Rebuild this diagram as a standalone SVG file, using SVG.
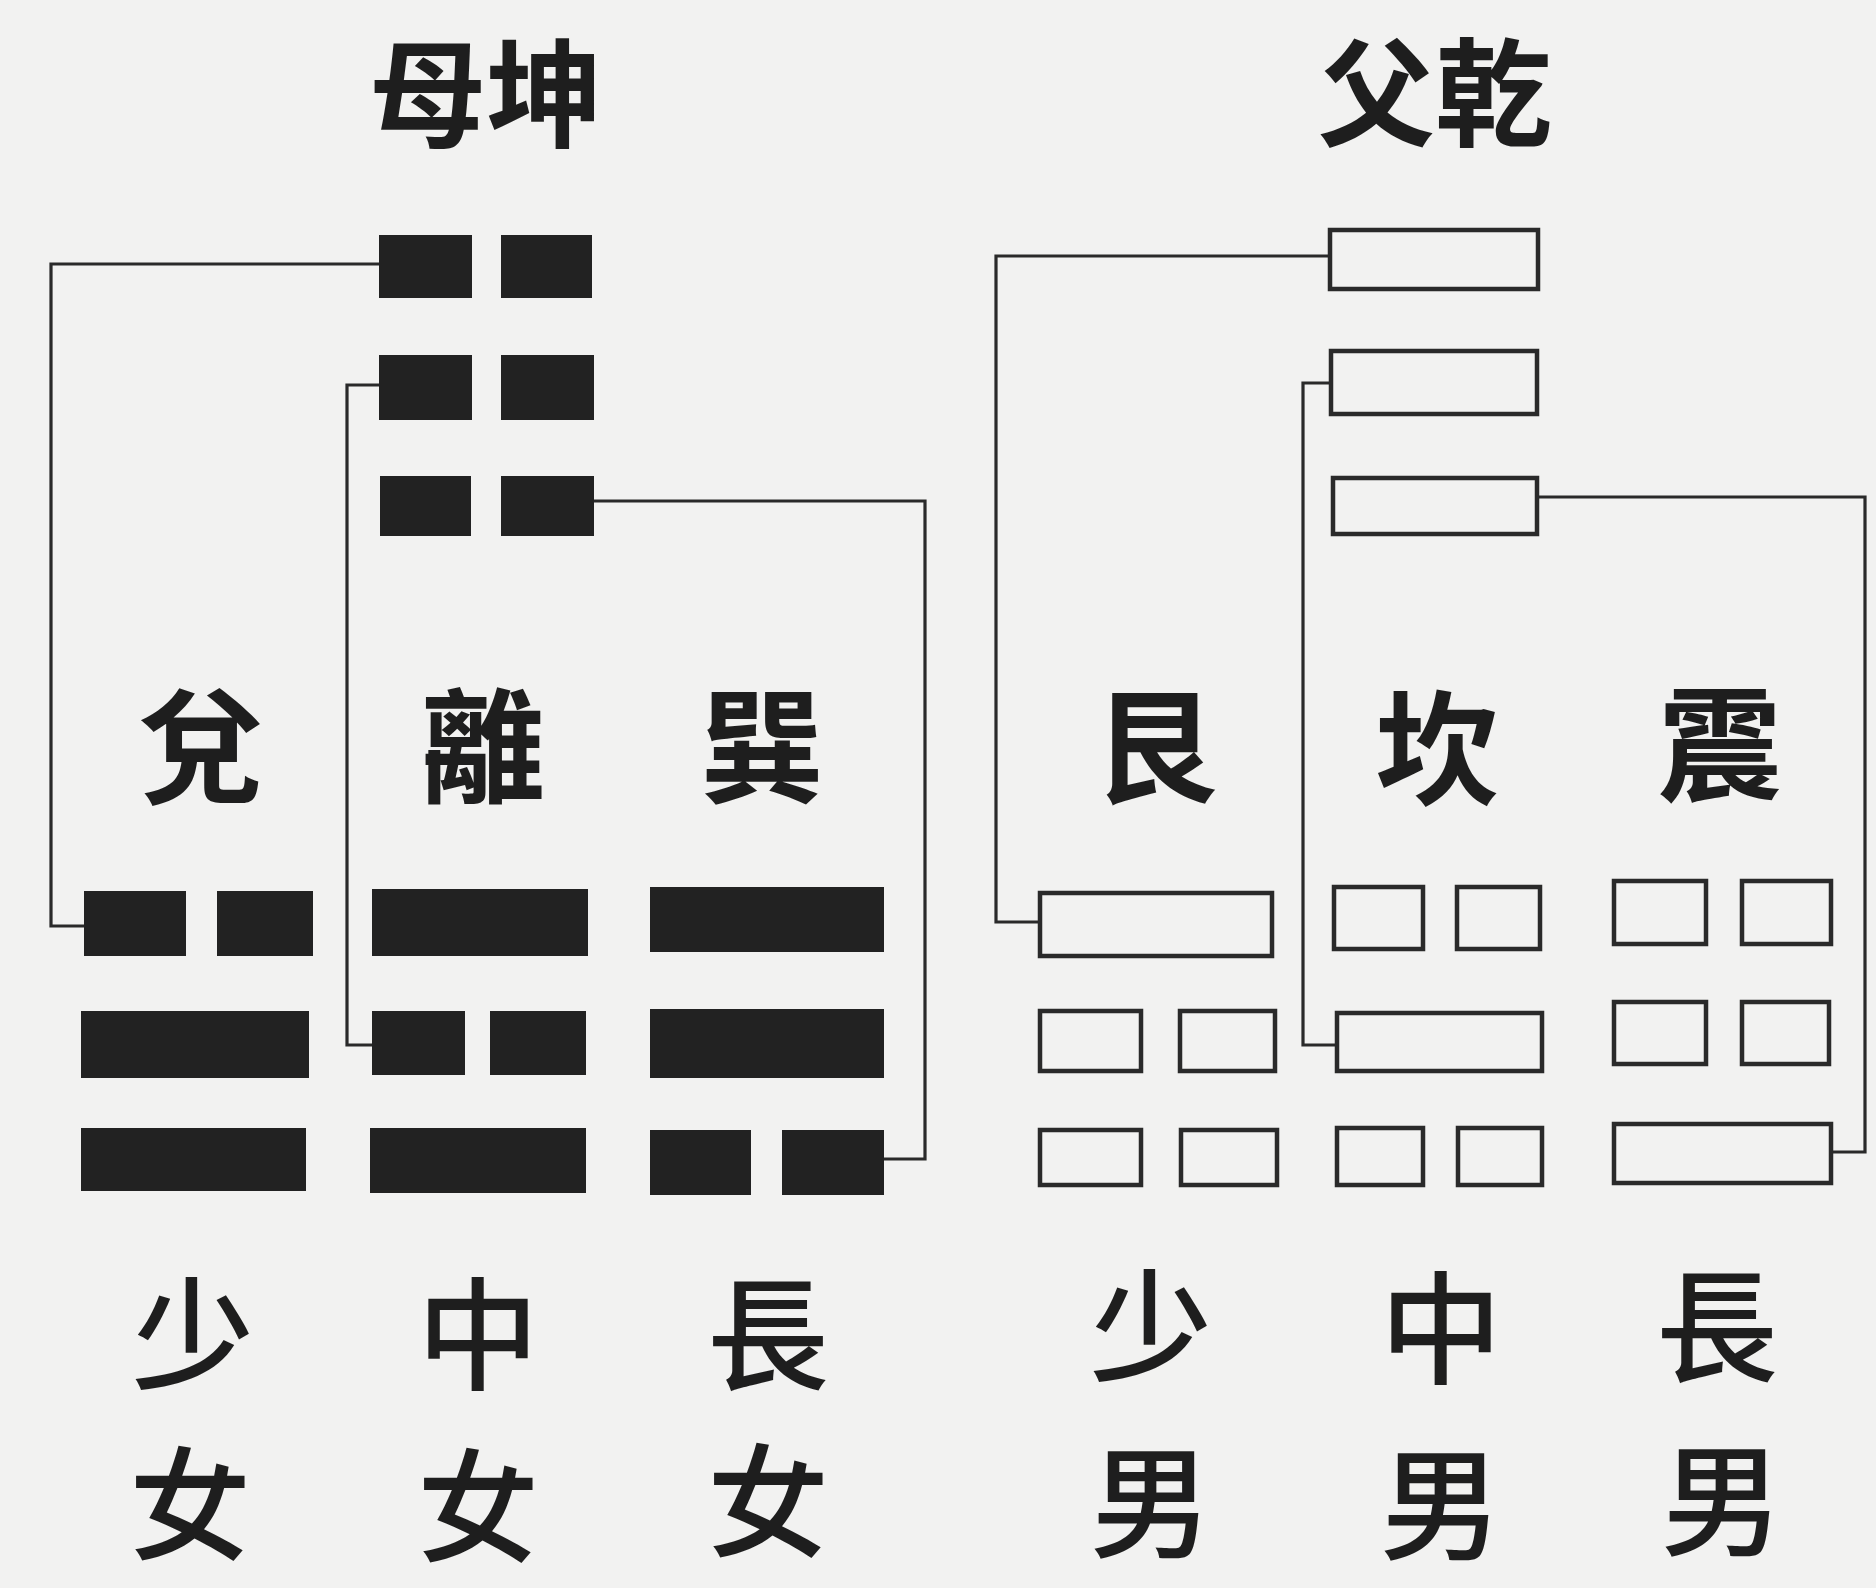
<svg xmlns="http://www.w3.org/2000/svg" width="1876" height="1588" viewBox="0 0 1876 1588">
<style>
.bg{fill:#f2f2f1}
.yinS,.yangS{fill:#222}
.o{fill:none;stroke:#2a2a2a;stroke-width:4.5}
.c{fill:none;stroke:#2a2a2a;stroke-width:3.2}
.t{font-family:"Noto Sans CJK TC","Noto Sans CJK SC",sans-serif;fill:#1e1e1e;text-anchor:middle}
.h{font-size:117px;font-weight:700}
.n{font-size:124px;font-weight:700}
.b{font-size:122px;font-weight:500}
</style>
<rect class="bg" x="0" y="0" width="1876" height="1588"/>

<g id="connectors">
<polyline class="c" points="379,264 51,264 51,926 84,926"/>
<polyline class="c" points="379,385 347,385 347,1045 372,1045"/>
<polyline class="c" points="593,501 925,501 925,1159 884,1159"/>
<polyline class="c" points="1330,256 996,256 996,922 1040,922"/>
<polyline class="c" points="1331,383 1303,383 1303,1045 1337,1045"/>
<polyline class="c" points="1537,497 1865,497 1865,1152 1831,1152"/>
</g>

<g id="title-kun"><text class="t h" x="486" y="138">母坤</text></g>
<g id="title-qian"><text class="t h" x="1435" y="137">父乾</text></g>

<g id="kun">
<rect class="yinS" x="379" y="235" width="93" height="63"/>
<rect class="yinS" x="501" y="235" width="91" height="63"/>
<rect class="yinS" x="379" y="355" width="93" height="65"/>
<rect class="yinS" x="501" y="355" width="93" height="65"/>
<rect class="yinS" x="380" y="476" width="91" height="60"/>
<rect class="yinS" x="501" y="476" width="93" height="60"/>
</g>

<g id="qian">
<rect class="o" x="1330" y="230" width="208" height="59"/>
<rect class="o" x="1331" y="351" width="206" height="63"/>
<rect class="o" x="1333" y="478" width="204" height="56"/>
</g>

<g id="label-dui"><text class="t n" x="201" y="793">兌</text></g>
<g id="label-li"><text class="t n" x="483" y="793">離</text></g>
<g id="label-xun"><text class="t n" x="762" y="793">巽</text></g>
<g id="label-gen"><text class="t n" x="1155" y="793">艮</text></g>
<g id="label-kan"><text class="t n" x="1437" y="795">坎</text></g>
<g id="label-zhen"><text class="t n" x="1720" y="791">震</text></g>

<g id="dui">
<rect class="yinS" x="84" y="891" width="102" height="65"/>
<rect class="yinS" x="217" y="891" width="96" height="65"/>
<rect class="yangS" x="81" y="1011" width="228" height="67"/>
<rect class="yangS" x="81" y="1128" width="225" height="63"/>
</g>

<g id="li">
<rect class="yangS" x="372" y="889" width="216" height="67"/>
<rect class="yinS" x="372" y="1011" width="93" height="64"/>
<rect class="yinS" x="490" y="1011" width="96" height="64"/>
<rect class="yangS" x="370" y="1128" width="216" height="65"/>
</g>

<g id="xun">
<rect class="yangS" x="650" y="887" width="234" height="65"/>
<rect class="yangS" x="650" y="1009" width="234" height="69"/>
<rect class="yinS" x="650" y="1130" width="101" height="65"/>
<rect class="yinS" x="782" y="1130" width="102" height="65"/>
</g>

<g id="gen">
<rect class="o" x="1040" y="893" width="232" height="63"/>
<rect class="o" x="1040" y="1011" width="101" height="60"/>
<rect class="o" x="1180" y="1011" width="95" height="60"/>
<rect class="o" x="1040" y="1130" width="101" height="55"/>
<rect class="o" x="1181" y="1130" width="96" height="55"/>
</g>

<g id="kan">
<rect class="o" x="1334" y="887" width="89" height="62"/>
<rect class="o" x="1457" y="887" width="83" height="62"/>
<rect class="o" x="1337" y="1013" width="205" height="58"/>
<rect class="o" x="1337" y="1128" width="86" height="57"/>
<rect class="o" x="1458" y="1128" width="84" height="57"/>
</g>

<g id="zhen">
<rect class="o" x="1614" y="881" width="92" height="63"/>
<rect class="o" x="1742" y="881" width="89" height="63"/>
<rect class="o" x="1614" y="1002" width="92" height="62"/>
<rect class="o" x="1742" y="1002" width="87" height="62"/>
<rect class="o" x="1614" y="1124" width="217" height="59"/>
</g>

<g id="rank-shaonu">
<text class="t b" x="193" y="1380">少</text>
<text class="t b" x="190" y="1550">女</text>
</g>
<g id="rank-zhongnu">
<text class="t b" x="478" y="1380">中</text>
<text class="t b" x="478" y="1552">女</text>
</g>
<g id="rank-zhangnu">
<text class="t b" x="768" y="1380">長</text>
<text class="t b" x="768" y="1547">女</text>
</g>
<g id="rank-shaonan">
<text class="t b" x="1151" y="1372">少</text>
<text class="t b" x="1151" y="1548">男</text>
</g>
<g id="rank-zhongnan">
<text class="t b" x="1441" y="1374">中</text>
<text class="t b" x="1441" y="1550">男</text>
</g>
<g id="rank-zhangnan">
<text class="t b" x="1717" y="1372">長</text>
<text class="t b" x="1722" y="1546">男</text>
</g>
</svg>
